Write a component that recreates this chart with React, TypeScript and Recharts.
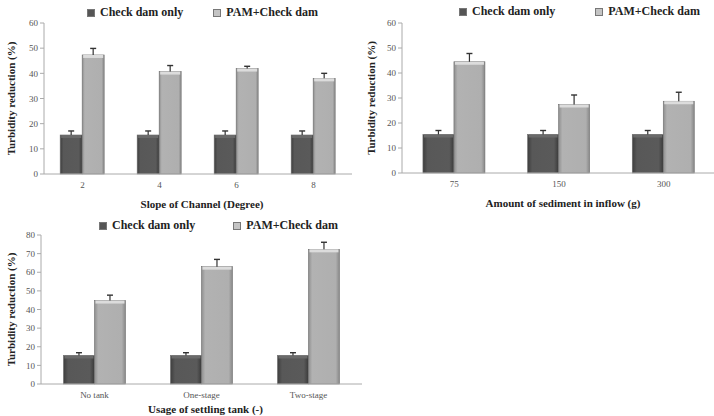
import React from "react";
import { BarChart, Bar, XAxis, YAxis } from "recharts";

const FONT = "Liberation Serif, Times New Roman, serif";

// slope of channel panel
const slopeCategories = ["2", "4", "6", "8"];
const slopeCheckDam = [15.5, 15.5, 15.5, 15.5];
const slopeCheckDamErr = [1.6, 1.6, 1.6, 1.6];
const slopePam = [47.3, 40.7, 41.9, 38.0];
const slopePamErr = [2.6, 2.4, 0.9, 2.0];
const slopeTicks = [0, 10, 20, 30, 40, 50, 60];

// sediment amount panel
const sedimentCategories = ["75", "150", "300"];
const sedimentCheckDam = [15.4, 15.4, 15.4];
const sedimentCheckDamErr = [1.6, 1.6, 1.6];
const sedimentPam = [44.5, 27.4, 28.7];
const sedimentPamErr = [3.3, 3.8, 3.6];
const sedimentTicks = [0, 10, 20, 30, 40, 50, 60];

// settling tank panel
const tankCategories = ["No tank", "One-stage", "Two-stage"];
const tankCheckDam = [15.3, 15.3, 15.3];
const tankCheckDamErr = [1.5, 1.5, 1.5];
const tankPam = [44.8, 63.0, 72.3];
const tankPamErr = [2.9, 3.9, 3.8];
const tankTicks = [0, 10, 20, 30, 40, 50, 60, 70, 80];

const seriesNames = ["Check dam only", "PAM+Check dam"];

function buildRows(cats, a, aErr, b, bErr) {
  return cats.map((c, i) => ({
    name: c,
    checkDam: a[i],
    checkDamErr: aErr[i],
    pam: b[i],
    pamErr: bErr[i],
  }));
}

const makeShape = (gradId, errKey, topColor) => (props: any) => {
  const { x, y, width, height, payload } = props;
  const v = payload[errKey === "pamErr" ? "pam" : "checkDam"];
  const perUnit = height / v;
  const errTop = y - payload[errKey] * perUnit;
  const cx = x + width / 2;
  return (
    <g>
      <rect x={x} y={y} width={width} height={height} fill={`url(#${gradId})`} stroke="#6e6e6e" strokeWidth={0.6} />
      <rect x={x + 1} y={y} width={width - 2} height={3} fill={topColor} />
      <line x1={cx} y1={y} x2={cx} y2={errTop} stroke="#333" strokeWidth={1.2} />
      <line x1={cx - 3} y1={errTop} x2={cx + 3} y2={errTop} stroke="#333" strokeWidth={1.4} />
    </g>
  );
};

function Legend({ left, top, gap }) {
  const item = (color, label) => (
    <div style={{ display: "flex", alignItems: "center", marginRight: gap }}>
      <div style={{ width: 6, height: 6, background: color, marginRight: 5, border: "1px solid #777" }} />
      <span style={{ fontFamily: FONT, fontWeight: "bold", fontSize: 12, color: "#222" }}>{label}</span>
    </div>
  );
  return (
    <div style={{ position: "absolute", left, top, display: "flex", whiteSpace: "nowrap" }}>
      {item("#555", seriesNames[0])}
      {item("#c4c4c4", seriesNames[1])}
    </div>
  );
}

function Panel({ id, data, ticks, xLabel, left, top, width, height, yAxisWidth, plotTop, xAxisHeight, gapPct, xLabelDy }) {
  const max = ticks[ticks.length - 1];
  return (
    <div style={{ position: "absolute", left, top, width, height }}>
      <BarChart
        width={width}
        height={height}
        data={data}
        margin={{ top: plotTop, right: 0, left: 0, bottom: 0 }}
        barCategoryGap={gapPct}
        barGap={0}
      >
        <defs>
          <linearGradient id={`dark-${id}`} x1="0" y1="0" x2="1" y2="0">
            <stop offset="0%" stopColor="#3e3e3e" />
            <stop offset="15%" stopColor="#585858" />
            <stop offset="85%" stopColor="#5a5a5a" />
            <stop offset="100%" stopColor="#3a3a3a" />
          </linearGradient>
          <linearGradient id={`light-${id}`} x1="0" y1="0" x2="1" y2="0">
            <stop offset="0%" stopColor="#8e8e8e" />
            <stop offset="12%" stopColor="#b2b2b2" />
            <stop offset="88%" stopColor="#afafaf" />
            <stop offset="100%" stopColor="#888" />
          </linearGradient>
        </defs>
        <XAxis
          dataKey="name"
          height={xAxisHeight}
          axisLine={{ stroke: "#aaa" }}
          tickLine={false}
          tick={{ fontSize: 9, fill: "#555", fontFamily: FONT }}
          label={{
            content: ({ viewBox }: any) => (
              <text
                x={viewBox.x + viewBox.width / 2 + 4}
                y={viewBox.y + xLabelDy}
                textAnchor="middle"
                fontFamily={FONT}
                fontWeight="bold"
                fontSize={11}
                fill="#222"
              >
                {xLabel}
              </text>
            ),
          }}
        />
        <YAxis
          width={yAxisWidth}
          domain={[0, max]}
          ticks={ticks}
          interval={0}
          axisLine={{ stroke: "#aaa" }}
          tickLine={{ stroke: "#aaa" }}
          tickSize={4}
          tickMargin={2}
          tick={{ fontSize: 9, fill: "#555", fontFamily: FONT }}
          label={{
            content: ({ viewBox }: any) => {
              const lx = viewBox.x + 12;
              const ly = viewBox.y + viewBox.height / 2;
              return (
                <text
                  x={lx}
                  y={ly}
                  transform={`rotate(-90, ${lx}, ${ly})`}
                  textAnchor="middle"
                  dominantBaseline="middle"
                  fontFamily={FONT}
                  fontWeight="bold"
                  fontSize={11}
                  fill="#222"
                >
                  Turbidity reduction (%)
                </text>
              );
            },
          }}
        />
        <Bar dataKey="checkDam" isAnimationActive={false} shape={makeShape(`dark-${id}`, "checkDamErr", "#6a6a6a")} />
        <Bar dataKey="pam" isAnimationActive={false} shape={makeShape(`light-${id}`, "pamErr", "#dcdcdc")} />
      </BarChart>
    </div>
  );
}

export default function App() {
  const slopeRows = buildRows(slopeCategories, slopeCheckDam, slopeCheckDamErr, slopePam, slopePamErr);
  const sedimentRows = buildRows(sedimentCategories, sedimentCheckDam, sedimentCheckDamErr, sedimentPam, sedimentPamErr);
  const tankRows = buildRows(tankCategories, tankCheckDam, tankCheckDamErr, tankPam, tankPamErr);
  return (
    <div style={{ position: "absolute", left: 0, top: 0, width: 714, height: 416, background: "#fff", overflow: "hidden" }}>
      <Panel
        id="slope"
        data={slopeRows}
        ticks={slopeTicks}
        xLabel="Slope of Channel (Degree)"
        left={0}
        top={0}
        width={352}
        height={212}
        yAxisWidth={44}
        plotTop={23}
        xAxisHeight={38}
        gapPct="21%"
        xLabelDy={34}
      />
      <Panel
        id="sediment"
        data={sedimentRows}
        ticks={sedimentTicks}
        xLabel="Amount of sediment in inflow (g)"
        left={360}
        top={0}
        width={356}
        height={212}
        yAxisWidth={42}
        plotTop={23}
        xAxisHeight={39}
        gapPct="20%"
        xLabelDy={34}
      />
      <Panel
        id="tank"
        data={tankRows}
        ticks={tankTicks}
        xLabel="Usage of settling tank (-)"
        left={0}
        top={212}
        width={362}
        height={204}
        yAxisWidth={41}
        plotTop={23}
        xAxisHeight={32}
        gapPct="21%"
        xLabelDy={29}
      />
      <Legend left={87} top={5} gap={30} />
      <Legend left={459} top={4} gap={40} />
      <Legend left={99} top={218} gap={38} />
    </div>
  );
}
